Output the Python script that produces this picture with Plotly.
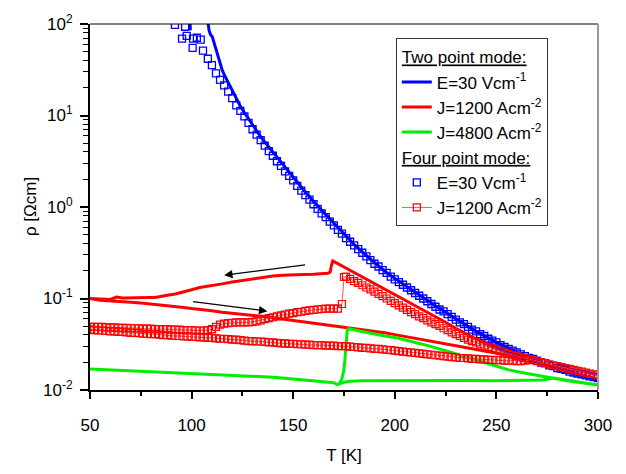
import plotly.graph_objects as go

# ---------------- data (T in K, values given as log10 of rho in Ohm*cm) ----------------
# Two point mode, E = 30 V/cm (solid blue)
blue2_T = [99.2, 99.4, None, 108.0, 108.6, 109.4, 110.2, 111.0, 112.0, 113.0, 114.0, 115.0, 116.0,
           118, 120, 122, 124, 126, 128, 130, 133, 136, 140, 145, 150, 155, 160, 165, 170, 175,
           180, 185, 190, 195, 200, 210, 220, 230, 240, 250, 260, 270, 280, 290, 300]
blue2_log = [2.03, 1.93, None, 2.03, 1.93, 1.88, 1.86, 1.80, 1.72, 1.63, 1.55, 1.50, 1.45,
             1.36, 1.27, 1.18, 1.10, 1.03, 0.96, 0.89, 0.80, 0.71, 0.60, 0.46, 0.32, 0.19, 0.06, -0.06, -0.18, -0.30,
             -0.41, -0.51, -0.61, -0.70, -0.78, -0.93, -1.08, -1.22, -1.36, -1.48, -1.59, -1.68, -1.77, -1.83, -1.885]

# Two point mode, J = 1200 A/cm2 (solid red) : cooling branch then heating branch
red2_T_cool = [300, 295, 290, 285, 280, 275, 270, 265, 260, 255, 250, 245, 240, 235, 230, 225, 220, 215,
               210, 205, 200, 195, 190, 185, 180, 175, 172, 170.5, 169.5, 168.8, 168.2, 167, 165, 160, 155,
               150, 145, 140, 135, 130, 125, 120, 115, 112, 110, 107, 104, 100, 96, 92, 88, 85, 82, 79,
               75, 70, 66, 63, 60, 55, 50]
red2_log_cool = [-1.83, -1.81, -1.79, -1.77, -1.745, -1.72, -1.69, -1.66, -1.625, -1.585, -1.54, -1.495,
                 -1.44, -1.385, -1.325, -1.26, -1.20, -1.14, -1.08, -1.015, -0.955, -0.895, -0.835, -0.775,
                 -0.715, -0.66, -0.625, -0.60, -0.59, -0.64, -0.71, -0.725, -0.73, -0.735, -0.737,
                 -0.74, -0.745, -0.755, -0.77, -0.785, -0.80, -0.82, -0.84, -0.85, -0.86, -0.865, -0.88,
                 -0.905, -0.93, -0.95, -0.965, -0.975, -0.99, -0.99, -0.99, -0.995, -0.995, -0.985, -1.01,
                 -1.005, -1.0]
red2_T_heat = [50, 55, 60, 65, 70, 75, 80, 85, 90, 95, 100, 105, 110, 115, 120, 125, 130, 135, 140, 145,
               150, 155, 160, 165, 170, 175, 180, 185, 190, 195, 200, 205, 210, 215, 220, 225, 230, 235,
               240, 245, 250, 255, 260, 265, 268]
red2_log_heat = [-1.0, -1.02, -1.025, -1.03, -1.04, -1.05, -1.06, -1.07, -1.085, -1.095, -1.11, -1.12,
                 -1.135, -1.15, -1.16, -1.17, -1.18, -1.195, -1.21, -1.225, -1.235, -1.25, -1.265, -1.28,
                 -1.295, -1.31, -1.325, -1.34, -1.36, -1.375, -1.395, -1.415, -1.435, -1.455, -1.475,
                 -1.495, -1.515, -1.535, -1.555, -1.575, -1.595, -1.615, -1.635, -1.655, -1.67]

# Two point mode, J = 4800 A/cm2 (solid green)
green2_T = [50, 60, 70, 80, 90, 100, 110, 120, 130, 140, 150, 160, 166, 170, 171.5, 172.5, 173.8, 174.8,
            175.4, 175.8, 176.2, 176.6, 177.2, 185, 190, 195, 200.9, 205, 210, 217.3, 225, 232, 240,
            248.5, 256, 265, 272, 278, 285, 292, 300, 292, 285, 278, 273, 265, 250, 235, 220, 200,
            184.5, 178, 175, 173, 172]
green2_log = [-1.77, -1.78, -1.79, -1.80, -1.81, -1.82, -1.83, -1.835, -1.845, -1.86, -1.88, -1.90,
              -1.905, -1.92, -1.94, -1.935, -1.89, -1.80, -1.68, -1.55, -1.42, -1.345, -1.33, -1.365,
              -1.39, -1.41, -1.43, -1.45, -1.48, -1.52, -1.57, -1.61, -1.67, -1.73, -1.78, -1.82, -1.85,
              -1.87, -1.90, -1.92, -1.945, -1.92, -1.90, -1.87, -1.89, -1.895, -1.90, -1.895, -1.895,
              -1.90, -1.90, -1.905, -1.915, -1.93, -1.94]

# Four point mode, E = 30 V/cm (blue open squares)
blue4_T = [91.8, 96.8, 95.3, 97.6, 100.7, 102.6, 104.5, 100.5, 105.6,
           108, 110, 112, 114, 116, 118, 120, 122, 124, 126, 128, 130, 132, 134, 136, 138, 140, 142,
           144, 146, 148, 150, 152, 154, 156, 158, 160, 162, 164, 166, 168, 170, 172, 174, 176, 178,
           180, 182, 184, 186, 188, 190, 192, 194, 196, 198, 200, 202, 204, 206, 208, 210, 212, 214,
           216, 218, 220, 222, 224, 226, 228, 230, 232, 234, 236, 238, 240, 242, 244, 246, 248, 250,
           252, 254, 256, 258, 260, 262, 264, 266, 268, 270, 272, 274, 276, 278, 280, 282, 284, 286,
           288, 290, 292, 294, 296, 298, 300]
blue4_log = [1.99, 1.97, 1.84, 1.87, 1.84, 1.85, 1.83, 1.74, 1.71,
             1.62, 1.55, 1.46, 1.39, 1.33, 1.26, 1.19, 1.11, 1.05, 0.99, 0.92, 0.85, 0.79, 0.73, 0.67,
             0.61, 0.56, 0.50, 0.45, 0.39, 0.34, 0.29, 0.23, 0.18, 0.13, 0.08, 0.03, -0.02, -0.07,
             -0.11, -0.16, -0.20, -0.25, -0.29, -0.34, -0.38, -0.42, -0.46, -0.50, -0.54, -0.58, -0.62,
             -0.65, -0.69, -0.72, -0.76, -0.79, -0.82, -0.85, -0.88, -0.91, -0.94, -0.97, -1.00, -1.03,
             -1.06, -1.09, -1.12, -1.14, -1.17, -1.20, -1.23, -1.26, -1.28, -1.31, -1.34, -1.36, -1.39,
             -1.41, -1.44, -1.46, -1.48, -1.51, -1.53, -1.55, -1.57, -1.59, -1.61, -1.63, -1.65, -1.66,
             -1.68, -1.70, -1.71, -1.73, -1.74, -1.76, -1.77, -1.78, -1.80, -1.81, -1.82, -1.83, -1.84,
             -1.85, -1.86, -1.87]

# Four point mode, J = 1200 A/cm2 (red open squares with thin line)
red4_T_cool = [300, 298, 296, 294, 292, 290, 288, 286, 284, 282, 280, 278, 276, 274, 272, 270, 268, 266,
               264, 262, 260, 258, 256, 254, 252, 250, 248, 246, 244, 242, 240, 238, 236, 234, 232, 230,
               228, 226, 224, 222, 220, 218, 216, 214, 212, 210, 208, 206, 204, 202, 200, 198, 196, 194,
               192, 190, 188, 186, 184, 182, 180, 178, 176, 175, 174,
               172, 170, 168, 166, 164, 162, 160, 158, 156, 154, 152, 150, 148, 146, 144, 142, 140, 138,
               136, 134, 132, 130, 128, 126, 124, 122, 120, 118, 116, 114, 112, 110, 108, 106, 104, 102,
               100, 98, 96, 94, 92, 90, 88, 86, 84, 82, 80, 78, 76, 74, 72, 70, 68, 66, 64, 62, 60, 58,
               56, 54, 52, 50]
red4_log_cool = [-1.84, -1.83, -1.82, -1.81, -1.80, -1.79, -1.78, -1.77, -1.76, -1.75, -1.74, -1.73,
                 -1.72, -1.705, -1.695, -1.685, -1.675, -1.665, -1.65, -1.64, -1.63, -1.62, -1.605, -1.59,
                 -1.575, -1.56, -1.545, -1.53, -1.515, -1.50, -1.48, -1.465, -1.45, -1.43, -1.41, -1.39,
                 -1.37, -1.345, -1.325, -1.30, -1.28, -1.26, -1.24, -1.215, -1.195, -1.17, -1.15, -1.125,
                 -1.10, -1.075, -1.05, -1.025, -1.00, -0.975, -0.95, -0.925, -0.90, -0.88, -0.855, -0.83,
                 -0.81, -0.785, -0.76, -0.765, -1.06,
                 -1.11, -1.11, -1.11, -1.11, -1.115, -1.12, -1.125, -1.13, -1.135, -1.145, -1.15, -1.16,
                 -1.165, -1.175, -1.185, -1.195, -1.205, -1.215, -1.225, -1.24, -1.25, -1.255, -1.26,
                 -1.26, -1.26, -1.26, -1.265, -1.27, -1.275, -1.285, -1.31, -1.335, -1.345, -1.35, -1.35,
                 -1.35, -1.345, -1.345, -1.345, -1.34, -1.34, -1.34, -1.335, -1.335, -1.335, -1.335, -1.33,
                 -1.33, -1.33, -1.325, -1.325, -1.325, -1.32, -1.32, -1.32, -1.315, -1.315, -1.315, -1.31,
                 -1.31, -1.31, -1.31]
red4_T_heat = [50, 52, 54, 56, 58, 60, 62, 64, 66, 68, 70, 72, 74, 76, 78, 80, 82, 84, 86, 88, 90, 92,
               94, 96, 98, 100, 102, 104, 106, 108, 110, 112, 114, 116, 118, 120, 122, 124, 126, 128,
               130, 132, 134, 136, 138, 140, 142, 144, 146, 148, 150, 152, 154, 156, 158, 160, 162, 164,
               166, 168, 170, 172, 174, 176, 178, 180, 182, 184, 186, 188, 190, 192, 194, 196, 198, 200,
               202, 204, 206, 208, 210, 212, 214, 216, 218, 220, 222, 224, 226, 228, 230, 232, 234, 236,
               238, 240, 242, 244, 246, 248, 250, 252, 254, 256, 258, 260, 262, 264, 266]
red4_log_heat = [-1.34, -1.345, -1.35, -1.35, -1.355, -1.36, -1.36, -1.365, -1.365, -1.37, -1.375,
                 -1.375, -1.38, -1.385, -1.385, -1.39, -1.39, -1.395, -1.40, -1.40, -1.405, -1.41, -1.41,
                 -1.415, -1.415, -1.42, -1.42, -1.425, -1.425, -1.43, -1.43, -1.435, -1.44, -1.44, -1.445,
                 -1.45, -1.45, -1.455, -1.46, -1.465, -1.465, -1.47, -1.47, -1.475, -1.48, -1.48, -1.485,
                 -1.49, -1.49, -1.495, -1.495, -1.50, -1.50, -1.505, -1.505, -1.51, -1.51, -1.51, -1.515,
                 -1.515, -1.515, -1.52, -1.52, -1.52, -1.525, -1.53, -1.535, -1.54, -1.54, -1.545, -1.55,
                 -1.55, -1.555, -1.56, -1.565, -1.57, -1.575, -1.58, -1.585, -1.59, -1.595, -1.60, -1.605,
                 -1.61, -1.615, -1.62, -1.625, -1.63, -1.635, -1.64, -1.645, -1.65, -1.65, -1.655, -1.66,
                 -1.66, -1.665, -1.665, -1.67, -1.67, -1.675, -1.675, -1.68, -1.68, -1.68, -1.685, -1.685,
                 -1.68, -1.67]

# Arrows (tail T, tail log10 rho, head T, head log10 rho)
arrows = [(156.6, -0.631, 116.0, -0.745), (100.0, -1.032, 137.3, -1.138)]

# Axis ticks
x_ticks = [50, 100, 150, 200, 250, 300]
y_ticks = [0.01, 0.1, 1, 10, 100]
y_ticktext = ["10<sup>-2</sup>", "10<sup>-1</sup>", "10<sup>0</sup>", "10<sup>1</sup>", "10<sup>2</sup>"]

# ---------------- figure ----------------
def to_rho(logs):
    return [None if v is None else 10 ** v for v in logs]

for a, b in [(blue2_T, blue2_log), (red2_T_cool, red2_log_cool), (red2_T_heat, red2_log_heat),
             (green2_T, green2_log), (blue4_T, blue4_log), (red4_T_cool, red4_log_cool),
             (red4_T_heat, red4_log_heat)]:
    assert len(a) == len(b), (len(a), len(b))

FONT = "Liberation Sans"

fig = go.Figure()
fig.add_trace(go.Scatter(x=blue2_T, y=to_rho(blue2_log), mode="lines",
                         line=dict(color="#0000ff", width=3), name="E=30 Vcm<sup>-1</sup>",
                         legendgroup="two", legendgrouptitle_text="<u>Two point mode:</u>"))
fig.add_trace(go.Scatter(x=red2_T_cool + red2_T_heat, y=to_rho(red2_log_cool + red2_log_heat),
                         mode="lines", line=dict(color="#ff0000", width=3),
                         name="J=1200 Acm<sup>-2</sup>", legendgroup="two"))
fig.add_trace(go.Scatter(x=green2_T, y=to_rho(green2_log), mode="lines",
                         line=dict(color="#00ee00", width=3), name="J=4800 Acm<sup>-2</sup>",
                         legendgroup="two"))
fig.add_trace(go.Scatter(x=blue4_T, y=to_rho(blue4_log), mode="markers",
                         marker=dict(symbol="square-open", size=7, color="#0000ff",
                                     line=dict(width=1.3, color="#0000ff")),
                         name="E=30 Vcm<sup>-1</sup>", legendgroup="four",
                         legendgrouptitle_text="<u>Four point mode:</u>"))
fig.add_trace(go.Scatter(x=red4_T_cool + red4_T_heat, y=to_rho(red4_log_cool + red4_log_heat),
                         mode="lines+markers", line=dict(color="#ff5555", width=1),
                         marker=dict(symbol="square-open", size=7, color="#ff0000",
                                     line=dict(width=1.2, color="#ff0000")),
                         name="J=1200 Acm<sup>-2</sup>", legendgroup="four"))

for (tx, ty, hx, hy) in arrows:
    fig.add_annotation(x=hx, y=hy, ax=tx, ay=ty, xref="x", yref="y", axref="x", ayref="y",
                       showarrow=True, arrowhead=2, arrowsize=1.4, arrowwidth=1.2,
                       arrowcolor="black", text="")

# y-axis title placed precisely
fig.add_annotation(text="ρ [Ωcm]", xref="paper", yref="paper", x=-0.118, y=0.5,
                   xanchor="center", yanchor="middle", textangle=-90, showarrow=False,
                   font=dict(family=FONT, size=17, color="black"))

# frame: top black, right grey
fig.add_shape(type="line", xref="paper", yref="paper", x0=0, x1=1, y0=1, y1=1,
              line=dict(color="black", width=1))
fig.add_shape(type="line", xref="paper", yref="paper", x0=1, x1=1, y0=0, y1=1,
              line=dict(color="#9a9a9a", width=2))

fig.update_layout(
    width=626, height=474,
    margin=dict(l=90, r=28, t=16, b=82),
    plot_bgcolor="white", paper_bgcolor="white",
    font=dict(family=FONT, size=17, color="black"),
    legend=dict(x=0.602, y=0.961, xanchor="left", yanchor="top",
                bordercolor="#333333", borderwidth=1, bgcolor="white",
                font=dict(family=FONT, size=17, color="black"),
                grouptitlefont=dict(family=FONT, size=17, color="black"),
                tracegroupgap=0, traceorder="grouped"),
)
fig.update_xaxes(range=[50, 300], tickmode="array", tickvals=x_ticks,
                 ticks="outside", ticklen=7, tickwidth=1.5, tickcolor="black",
                 showline=True, linecolor="black", linewidth=2,
                 showgrid=False, zeroline=False,
                 minor=dict(tickmode="array", tickvals=[75, 125, 175, 225, 275],
                            ticks="outside", ticklen=4, tickwidth=1.5, tickcolor="black", showgrid=False),
                 tickfont=dict(size=17), ticklabelstandoff=12,
                 title=dict(text="T [K]", font=dict(size=17), standoff=15))
minor_y = [m * 10 ** e for e in (-2, -1, 0, 1) for m in range(2, 10)]
fig.update_yaxes(type="log", range=[-2, 2], tickmode="array", tickvals=y_ticks, ticktext=y_ticktext,
                 ticks="outside", ticklen=8, tickwidth=1.5, tickcolor="black",
                 showline=True, linecolor="black", linewidth=2,
                 showgrid=False, zeroline=False,
                 minor=dict(tickmode="array", tickvals=minor_y,
                            ticks="outside", ticklen=5, tickwidth=1.2, tickcolor="black", showgrid=False),
                 tickfont=dict(size=17), ticklabelstandoff=4)

fig.write_html("out.html")
